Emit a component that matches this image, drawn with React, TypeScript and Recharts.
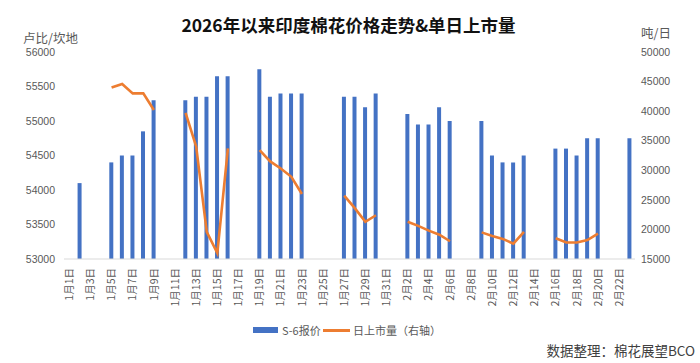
import React from 'react';
import { ComposedChart, Bar, Line, XAxis, YAxis, Legend } from 'recharts';

const dates = [
  '1月1日', '1月2日', '1月3日', '1月4日', '1月5日', '1月6日', '1月7日', '1月8日', '1月9日', '1月10日',
  '1月11日', '1月12日', '1月13日', '1月14日', '1月15日', '1月16日', '1月17日', '1月18日', '1月19日', '1月20日',
  '1月21日', '1月22日', '1月23日', '1月24日', '1月25日', '1月26日', '1月27日', '1月28日', '1月29日', '1月30日',
  '1月31日', '2月1日', '2月2日', '2月3日', '2月4日', '2月5日', '2月6日', '2月7日', '2月8日', '2月9日',
  '2月10日', '2月11日', '2月12日', '2月13日', '2月14日', '2月15日', '2月16日', '2月17日', '2月18日', '2月19日',
  '2月20日', '2月21日', '2月22日', '2月23日',
];

// S-6 报价（卢比/坎地）
const priceS6 = [
  null, 54100, null, null, 54400, 54500, 54500, 54850, 55300, null,
  null, 55300, 55350, 55350, 55650, 55650, null, null, 55750, 55350,
  55400, 55400, 55400, null, null, null, 55350, 55350, 55200, 55400,
  null, null, 55100, 54950, 54950, 55200, 55000, null, null, 55000,
  54500, 54400, 54400, 54500, null, null, 54600, 54600, 54500, 54750,
  54750, null, null, 54750,
];

// 日上市量（吨/日，右轴）
const dailyArrivals = [
  null, null, null, null, 44000, 44600, 43000, 43000, 40200, null,
  null, 39700, 34000, 19600, 16000, 33700, null, null, 33400, 31500,
  30300, 28900, 26000, null, null, null, 25700, 23600, 21300, 22400,
  null, null, 21300, 20600, 19800, 19100, 18000, null, null, 19500,
  18900, 18400, 17600, 19600, null, null, 18500, 17800, 17800, 18200,
  19300, null, null, null,
];

const leftTicks = [53000, 53500, 54000, 54500, 55000, 55500, 56000];
const rightTicks = [15000, 20000, 25000, 30000, 35000, 40000, 45000, 50000];

const seriesNames = { price: 'S-6报价', arrivals: '日上市量（右轴）' };

const data = dates.map((d, i) => ({ date: d, price: priceS6[i], arrivals: dailyArrivals[i] }));

const BLUE = '#4472C4';
const ORANGE = '#ED7D31';
const GRAY = '#595959';
const FONT = '"Liberation Sans", "Noto Sans CJK SC", sans-serif';
const CJK = '"Noto Sans CJK SC", "Liberation Sans", sans-serif';

const XTick = (props: any) => {
  const { x, y, payload } = props;
  return (
    <text
      x={x}
      y={y + 9}
      dy="0.35em"
      transform={`rotate(-90, ${x}, ${y + 9})`}
      textAnchor="end"
      fontSize={10.5}
      fill={GRAY}
      fontFamily={CJK}
    >
      {payload.value}
    </text>
  );
};

const renderLegend = () => (
  <div style={{ position: 'relative', width: 700, height: 18, fontFamily: CJK, fontSize: 11, color: GRAY }}>
    <div style={{ position: 'absolute', left: 253, top: 6, width: 25, height: 6, background: BLUE }} />
    <div style={{ position: 'absolute', left: 282, top: 0, lineHeight: '18px', whiteSpace: 'nowrap' }}>{seriesNames.price}</div>
    <div style={{ position: 'absolute', left: 323, top: 8, width: 27, height: 2.5, background: ORANGE }} />
    <div style={{ position: 'absolute', left: 353, top: 0, lineHeight: '18px', whiteSpace: 'nowrap' }}>{seriesNames.arrivals}</div>
  </div>
);

export default function App() {
  return (
    <div style={{ position: 'absolute', left: 0, top: 0, width: 700, height: 363, background: '#fff' }}>
      <ComposedChart width={700} height={363} data={data} margin={{ top: 52, right: 0, bottom: 0, left: 0 }}>
        <XAxis
          dataKey="date"
          interval={1}
          height={104}
          tick={<XTick />}
          tickLine={false}
          tickSize={0}
          tickMargin={0}
          axisLine={{ stroke: '#D9D9D9' }}
        />
        <YAxis
          yAxisId="left"
          domain={[53000, 56000]}
          ticks={leftTicks}
          width={64}
          axisLine={false}
          tickLine={false}
          tickSize={0}
          tickMargin={9}
          tick={{ fontSize: 10.5, fill: GRAY, fontFamily: FONT }}
        />
        <YAxis
          yAxisId="right"
          orientation="right"
          domain={[15000, 50000]}
          ticks={rightTicks}
          width={65}
          axisLine={false}
          tickLine={false}
          tickSize={0}
          tickMargin={6}
          tick={{ fontSize: 10.5, fill: GRAY, fontFamily: FONT, textAnchor: 'start' }}
        />
        <Legend
          layout="horizontal"
          verticalAlign="middle"
          align="center"
          wrapperStyle={{ position: 'absolute', top: 321, left: 0, width: 700, height: 18 }}
          content={renderLegend}
        />
        <Bar yAxisId="left" dataKey="price" name={seriesNames.price} fill={BLUE} barSize={4} isAnimationActive={false} />
        <Line
          yAxisId="right"
          dataKey="arrivals"
          name={seriesNames.arrivals}
          type="linear"
          stroke={ORANGE}
          strokeWidth={2.6}
          dot={false}
          activeDot={false}
          isAnimationActive={false}
        />
      </ComposedChart>
      <div style={{ position: 'absolute', left: 0, top: 14, width: 697, textAlign: 'center', fontFamily: CJK, fontWeight: 700, fontSize: 17.5, lineHeight: '21px', color: '#111' }}>
        2026年以来印度棉花价格走势&amp;单日上市量
      </div>
      <div style={{ position: 'absolute', left: 23, top: 30, fontFamily: CJK, fontSize: 12.5, lineHeight: '16px', color: GRAY, whiteSpace: 'nowrap' }}>
        卢比/坎地
      </div>
      <div style={{ position: 'absolute', left: 641, top: 24, fontFamily: CJK, fontSize: 12.5, lineHeight: '18px', color: GRAY, whiteSpace: 'nowrap' }}>
        吨/日
      </div>
      <div style={{ position: 'absolute', right: 5, top: 341, fontFamily: CJK, fontSize: 13.5, lineHeight: '18px', color: '#404040', whiteSpace: 'nowrap' }}>
        数据整理：棉花展望BCO
      </div>
    </div>
  );
}
